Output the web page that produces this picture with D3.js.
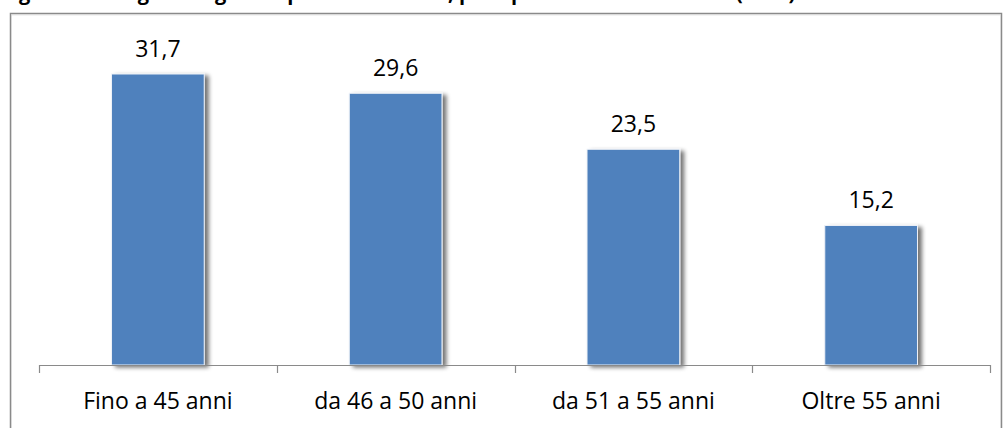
<!DOCTYPE html>
<html>
<head>
<meta charset="utf-8">
<script src="https://cdn.jsdelivr.net/npm/d3@7"></script>
<style>
  html, body { margin: 0; padding: 0; background: #fff; }
  svg { display: block; }
</style>
</head>
<body>
<svg id="chart" width="1004" height="428"></svg>
<script>
// Age classes and their percentage shares
const categories = ["Fino a 45 anni", "da 46 a 50 anni", "da 51 a 55 anni", "Oltre 55 anni"];
const values = [31.7, 29.6, 23.5, 15.2];
const valueLabels = ["31,7", "29,6", "23,5", "15,2"];
const titleText = "Figura 4 – Dirigenti regionali per classe di età, peso percentuale sul totale (2012)";

const svg = d3.select("#chart");
const font = "'Open Sans', Lato, sans-serif";

// Title (its upper part lies above the visible area)
svg.append("text")
  .attr("x", 2).attr("y", 0)
  .attr("font-family", font)
  .attr("font-weight", "bold")
  .attr("font-size", 20)
  .attr("fill", "#000")
  .text(titleText);

// Chart frame
svg.append("path")
  .attr("d", "M10.5,428 V13.5 H1001.5 V428")
  .attr("fill", "none")
  .attr("stroke", "#8a8a8a")
  .attr("stroke-width", 1.5);
svg.append("path")
  .attr("d", "M11.5,428 V14.8 H1000.5 V428")
  .attr("fill", "none")
  .attr("stroke", "#d8d8d8")
  .attr("stroke-width", 1);

// Soft shadow for bars
const defs = svg.append("defs");
const f = defs.append("filter").attr("id", "shadow")
  .attr("x", "-20%").attr("y", "-10%").attr("width", "140%").attr("height", "120%");
f.append("feGaussianBlur").attr("in", "SourceAlpha").attr("stdDeviation", 2.2).attr("result", "b");
f.append("feOffset").attr("in", "b").attr("dx", 4).attr("dy", 2).attr("result", "o");
f.append("feComponentTransfer").attr("in", "o").attr("result", "s")
  .append("feFuncA").attr("type", "linear").attr("slope", 0.55);
const m = f.append("feMerge");
m.append("feMergeNode").attr("in", "s");
m.append("feMergeNode").attr("in", "SourceGraphic");

const x = d3.scaleBand().domain(categories).range([39, 990]).paddingInner(0).paddingOuter(0);
const y = d3.scaleLinear().domain([0, 35]).range([365, 365 - 35 * 9.18]);
const barW = x.bandwidth() * 0.39;

// Bars
svg.append("g").selectAll("rect")
  .data(values)
  .join("rect")
  .attr("x", (d, i) => x(categories[i]) + (x.bandwidth() - barW) / 2)
  .attr("y", d => y(d))
  .attr("width", barW)
  .attr("height", d => y(0) - y(d))
  .attr("fill", "#4f81bd")
  .attr("stroke", "#eef2f8")
  .attr("stroke-width", 1)
  .attr("filter", "url(#shadow)");

// Value labels
svg.append("g").selectAll("text")
  .data(values)
  .join("text")
  .attr("x", (d, i) => x(categories[i]) + x.bandwidth() / 2)
  .attr("y", d => y(d) - 17)
  .attr("text-anchor", "middle")
  .attr("font-family", font)
  .attr("font-size", 23)
  .attr("fill", "#000")
  .text((d, i) => valueLabels[i]);

// Category axis with boundary ticks
const axisG = svg.append("g");
axisG.append("line")
  .attr("x1", 39).attr("x2", 990)
  .attr("y1", 365.5).attr("y2", 365.5)
  .attr("stroke", "#8a8a8a").attr("stroke-width", 1.2);
const bounds = categories.map(c => x(c)).concat([x(categories[categories.length - 1]) + x.bandwidth()]);
axisG.selectAll("line.tick")
  .data(bounds)
  .join("line")
  .attr("class", "tick")
  .attr("x1", d => Math.round(d) + 0.5).attr("x2", d => Math.round(d) + 0.5)
  .attr("y1", 365).attr("y2", 373)
  .attr("stroke", "#8a8a8a").attr("stroke-width", 1.2);
axisG.selectAll("text")
  .data(categories)
  .join("text")
  .attr("x", d => x(d) + x.bandwidth() / 2)
  .attr("y", 409)
  .attr("text-anchor", "middle")
  .attr("font-family", font)
  .attr("font-size", 23)
  .attr("fill", "#000")
  .text(d => d);
</script>
</body>
</html>
